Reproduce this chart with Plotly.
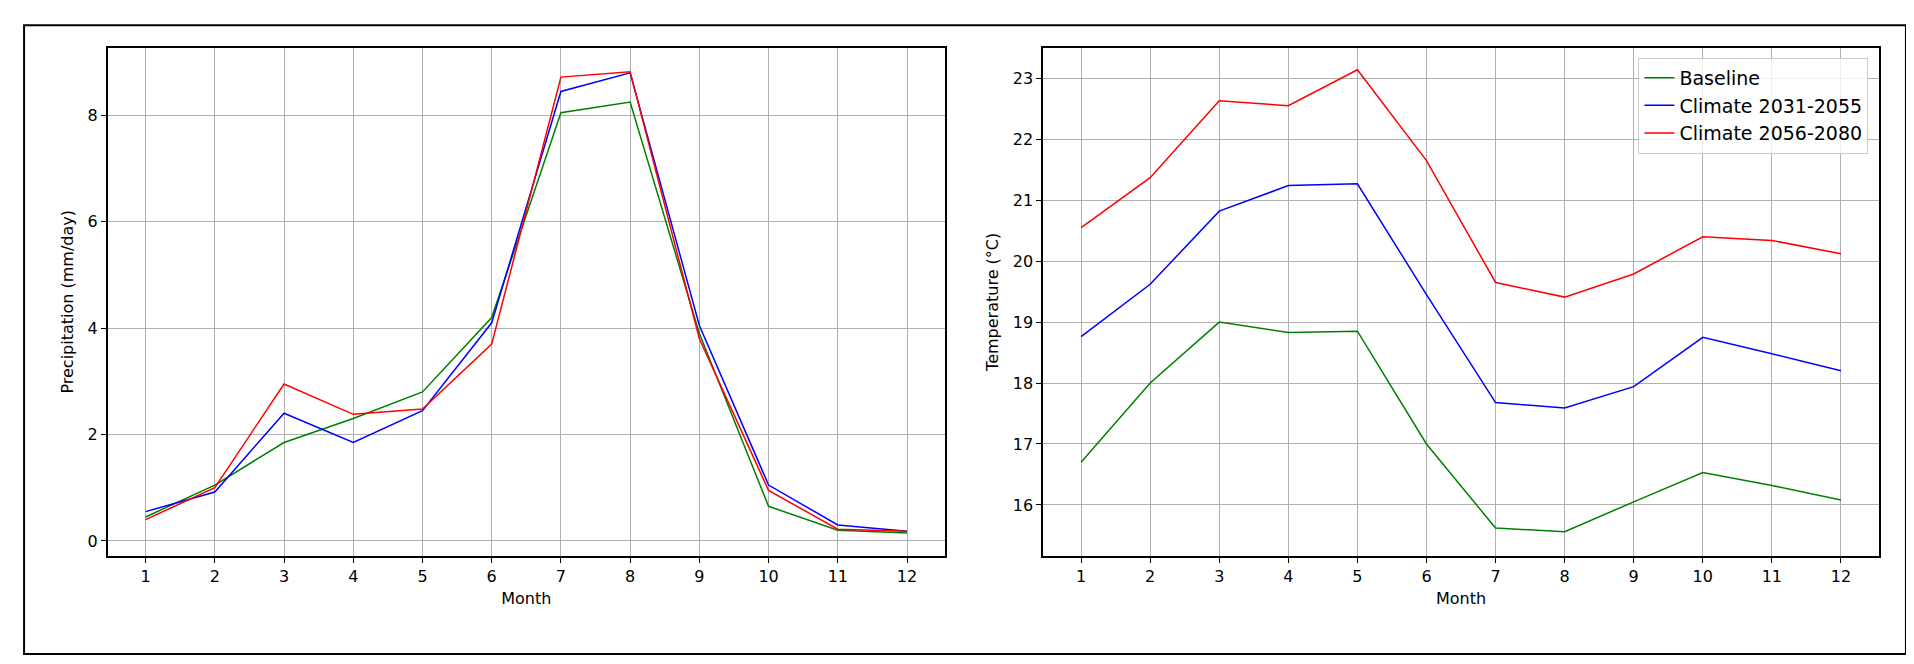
import plotly.graph_objects as go
from plotly.subplots import make_subplots

months = list(range(1, 13))

precip_baseline = [0.45, 1.05, 1.85, 2.3, 2.8, 4.2, 8.05, 8.25, 3.9, 0.65, 0.2, 0.15]
precip_2031_2055 = [0.55, 0.92, 2.4, 1.85, 2.45, 4.1, 8.45, 8.8, 4.05, 1.05, 0.3, 0.18]
precip_2056_2080 = [0.4, 1.0, 2.95, 2.38, 2.48, 3.7, 8.72, 8.82, 3.8, 0.95, 0.22, 0.18]

temp_baseline = [16.7, 18.0, 19.0, 18.83, 18.85, 17.0, 15.62, 15.56, 16.05, 16.53, 16.32, 16.08]
temp_2031_2055 = [18.76, 19.62, 20.82, 21.24, 21.27, 19.45, 17.68, 17.59, 17.94, 18.75, 18.48, 18.2]
temp_2056_2080 = [20.55, 21.37, 22.63, 22.55, 23.14, 21.65, 19.65, 19.41, 19.79, 20.4, 20.34, 20.12]

names = ["Baseline", "Climate 2031-2055", "Climate 2056-2080"]
colors = ["#008000", "#0000ff", "#ff0000"]

fig = make_subplots(rows=1, cols=2)

for name, color, p, t in zip(names, colors,
                             [precip_baseline, precip_2031_2055, precip_2056_2080],
                             [temp_baseline, temp_2031_2055, temp_2056_2080]):
    fig.add_trace(go.Scatter(x=months, y=p, mode="lines", name=name,
                             line=dict(color=color, width=1.5), showlegend=False), 1, 1)
    fig.add_trace(go.Scatter(x=months, y=t, mode="lines", name=name,
                             line=dict(color=color, width=1.5)), 1, 2)

axis_style = dict(showgrid=True, gridcolor="#b0b0b0", gridwidth=1.2,
                  showline=True, linecolor="black", linewidth=1.5, mirror=True,
                  ticks="outside", ticklen=5, tickcolor="black", zeroline=False,
                  tickfont=dict(size=16, color="black"))

fig.update_xaxes(axis_style, tickvals=months, range=[0.45, 12.55],
                 title=dict(text="Month", font=dict(size=16), standoff=8))
fig.update_xaxes(domain=[0.052, 0.4896], row=1, col=1)
fig.update_xaxes(domain=[0.5408, 0.9775], row=1, col=2)
fig.update_yaxes(axis_style, domain=[0.175, 0.94])
fig.update_yaxes(range=[-0.28, 9.27], tickvals=[0, 2, 4, 6, 8],
                 title=dict(text="Precipitation (mm/day)", font=dict(size=16), standoff=10),
                 row=1, col=1)
fig.update_yaxes(range=[15.165, 23.5], tickvals=list(range(16, 24)),
                 title=dict(text="Temperature (°C)", font=dict(size=16), standoff=10),
                 row=1, col=2)

fig.add_shape(type="rect", xref="paper", yref="paper", x0=0.0084, x1=0.9916,
              y0=0.027, y1=0.974, line=dict(color="black", width=2))

fig.update_layout(
    width=1914, height=664, margin=dict(l=0, r=0, t=0, b=0),
    paper_bgcolor="white", plot_bgcolor="white",
    font=dict(family="DejaVu Sans", color="black"),
    legend=dict(x=0.972, y=0.925, xanchor="right", yanchor="top",
                bgcolor="rgba(255,255,255,0.8)", bordercolor="#cccccc", borderwidth=1,
                font=dict(size=19), tracegroupgap=6),
)

fig.write_html("out.html")
